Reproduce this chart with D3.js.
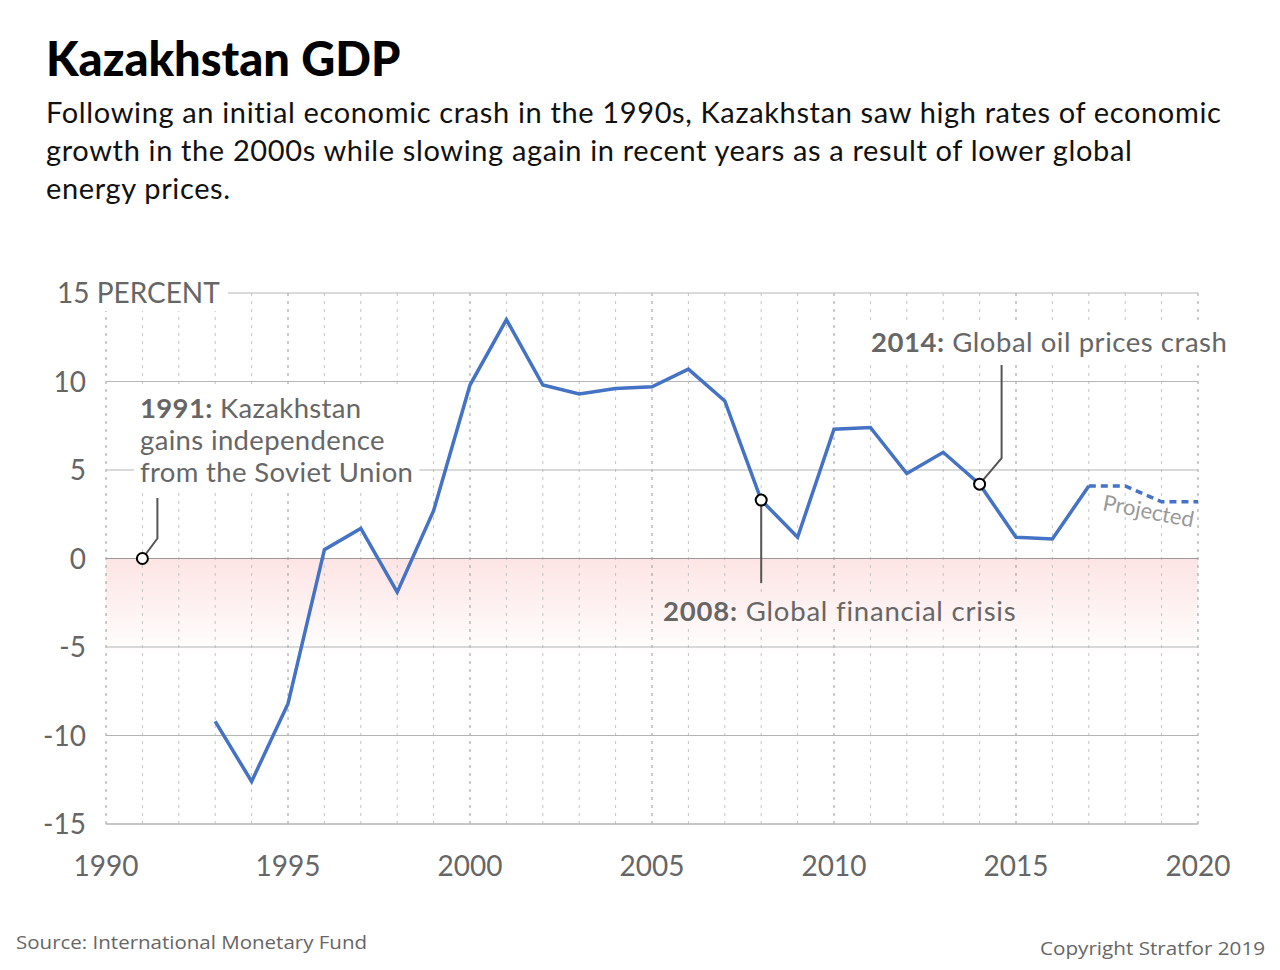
<!DOCTYPE html>
<html><head><meta charset="utf-8">
<script src="https://cdn.jsdelivr.net/npm/d3@7"></script>
<style>body{margin:0;background:#fff}svg{display:block}</style>
</head><body>
<script>
const years = [1993,1994,1995,1996,1997,1998,1999,2000,2001,2002,2003,2004,2005,2006,2007,2008,2009,2010,2011,2012,2013,2014,2015,2016,2017];
const gdp = [-9.2,-12.6,-8.2,0.5,1.7,-1.9,2.7,9.8,13.5,9.8,9.3,9.6,9.7,10.7,8.9,3.3,1.2,7.3,7.4,4.8,6.0,4.2,1.2,1.1,4.1];
const projYears = [2017,2018,2019,2020];
const projGdp = [4.1,4.1,3.2,3.2];
const yTicks = [15,10,5,0,-5,-10,-15];
const xTicks = [1990,1995,2000,2005,2010,2015,2020];
const subtitleLines = ["Following an initial economic crash in the 1990s, Kazakhstan saw high rates of economic","growth in the 2000s while slowing again in recent years as a result of lower global","energy prices."];

const W=1280,H=970;
const svg=d3.select("body").append("svg").attr("width",W).attr("height",H);
const x=d3.scaleLinear().domain([1990,2020]).range([106,1198]);
const y=d3.scaleLinear().domain([-15,15]).range([824,293]);
const grey="#666";
const font="Lato, 'Open Sans', sans-serif";

const defs=svg.append("defs");
const grad=defs.append("linearGradient").attr("id","neg").attr("gradientUnits","userSpaceOnUse")
 .attr("x1",0).attr("x2",0).attr("y1",y(0)).attr("y2",y(-5.5));
grad.append("stop").attr("offset",0).attr("stop-color","#fde4e4");
grad.append("stop").attr("offset",1).attr("stop-color","#ffffff");

// title
svg.append("text").attr("x",46).attr("y",76).attr("font-family",font).attr("font-weight",900)
 .attr("font-size",47).attr("fill","#000").text("Kazakhstan GDP");
svg.append("g").selectAll("text").data(subtitleLines).join("text")
 .attr("x",46).attr("y",(d,i)=>123+i*38).attr("font-family",font).attr("font-size",29)
 .attr("letter-spacing",0.64).attr("fill","#111").text(d=>d);

// negative shading
svg.append("rect").attr("x",x(1990)).attr("y",y(0)).attr("width",x(2020)-x(1990)).attr("height",y(-6)-y(0)).attr("fill","url(#neg)");

// vertical dotted year lines
const allYears=d3.range(1990,2021);
svg.append("g").selectAll("line").data(allYears).join("line")
 .attr("x1",d=>x(d)).attr("x2",d=>x(d)).attr("y1",y(15)).attr("y2",y(-15))
 .attr("stroke",d=>d%5===0?"#999":"#c4c4c4").attr("stroke-width",1).attr("stroke-dasharray","3,5");

// horizontal grid
svg.append("g").selectAll("line").data(yTicks).join("line")
 .attr("x1",d=>d===15?228:x(1990)).attr("x2",x(2020)).attr("y1",d=>y(d)).attr("y2",d=>y(d))
 .attr("stroke",d=>d===0?"#9a9a9a":"#b5b5b5").attr("stroke-width",d=>d===-15?1.5:1);

// y labels
const yl=svg.append("g").attr("font-family",font).attr("font-size",28).attr("fill",grey);
yl.append("rect").attr("x",52).attr("y",y(15)-22).attr("width",172).attr("height",40).attr("fill","#fff");
yl.selectAll("text").data(yTicks).join("text")
 .attr("x",d=>d===15?57:86).attr("y",d=>y(d)+10).attr("text-anchor",d=>d===15?"start":"end")
 .text(d=>d===15?"15 PERCENT":d);
// x labels
svg.append("g").attr("font-family",font).attr("font-size",28).attr("fill",grey)
 .selectAll("text").data(xTicks).join("text").attr("x",d=>x(d)).attr("y",876).attr("text-anchor","middle").text(d=>d);

// annotations
function annot(lines,xx,yy,bg,ls){
  const g=svg.append("g").attr("font-family",font).attr("font-size",27.5).attr("letter-spacing",ls).attr("fill",grey);
  const r=g.append("rect").attr("fill",bg);
  const t=g.selectAll("text").data(lines).join("text").attr("x",xx).attr("y",(d,i)=>yy+i*32);
  t.each(function(d){const s=d3.select(this);
    if(d.b){s.append("tspan").attr("font-weight",700).text(d.b);}
    s.append("tspan").text(d.t);});
  const bb=g.node().getBBox();
  r.attr("x",bb.x-6).attr("y",bb.y-2).attr("width",bb.width+12).attr("height",bb.height+4);
}
annot([{b:"1991:",t:" Kazakhstan"},{t:"gains independence"},{t:"from the Soviet Union"}],140,418,"#fff",0.35);
annot([{b:"2008:",t:" Global financial crisis"}],663,621,"url(#neg)",0.8);
annot([{b:"2014:",t:" Global oil prices crash"}],871,352,"#fff",0.55);

// leader lines
const lp=(pts)=>svg.append("path").attr("d",d3.line()(pts)).attr("fill","none").attr("stroke","#555").attr("stroke-width",2);
lp([[x(1991),y(0)],[x(1991)+15,y(0)-20],[x(1991)+15,498]]);
lp([[x(2008),y(3.3)],[x(2008),583]]);
lp([[x(2014),y(4.2)],[x(2014)+22,y(4.2)-26],[x(2014)+22,365]]);

// data line
const line=d3.line().x(d=>x(d[0])).y(d=>y(d[1]));
svg.append("path").attr("d",line(years.map((d,i)=>[d,gdp[i]]))).attr("fill","none")
 .attr("stroke","#4472c4").attr("stroke-width",3.5).attr("stroke-linejoin","miter");
svg.append("path").attr("d",line(projYears.map((d,i)=>[d,projGdp[i]]))).attr("fill","none")
 .attr("stroke","#4472c4").attr("stroke-width",3.5).attr("stroke-dasharray","7,5");

svg.append("text").attr("transform",`translate(${x(2018.6)},${y(2.25)}) rotate(11)`)
 .attr("text-anchor","middle").attr("font-family",font).attr("font-size",22).attr("fill","#999").text("Projected");

// markers
const marks=[[1991,0],[2008,3.3],[2014,4.2]];
svg.append("g").selectAll("circle").data(marks).join("circle")
 .attr("cx",d=>x(d[0])).attr("cy",d=>y(d[1])).attr("r",5.5).attr("fill","#fff").attr("stroke","#000").attr("stroke-width",2);

// footer
svg.append("text").attr("x",16).attr("y",949).attr("font-family","'Open Sans', sans-serif").attr("font-size",19)
 .attr("fill",grey).attr("textLength",351).attr("lengthAdjust","spacingAndGlyphs").text("Source: International Monetary Fund");
svg.append("text").attr("x",1265).attr("y",955).attr("text-anchor","end").attr("font-family","'Open Sans', sans-serif").attr("font-size",19)
 .attr("fill",grey).attr("textLength",225).attr("lengthAdjust","spacingAndGlyphs").text("Copyright Stratfor 2019");
</script>
</body></html>
